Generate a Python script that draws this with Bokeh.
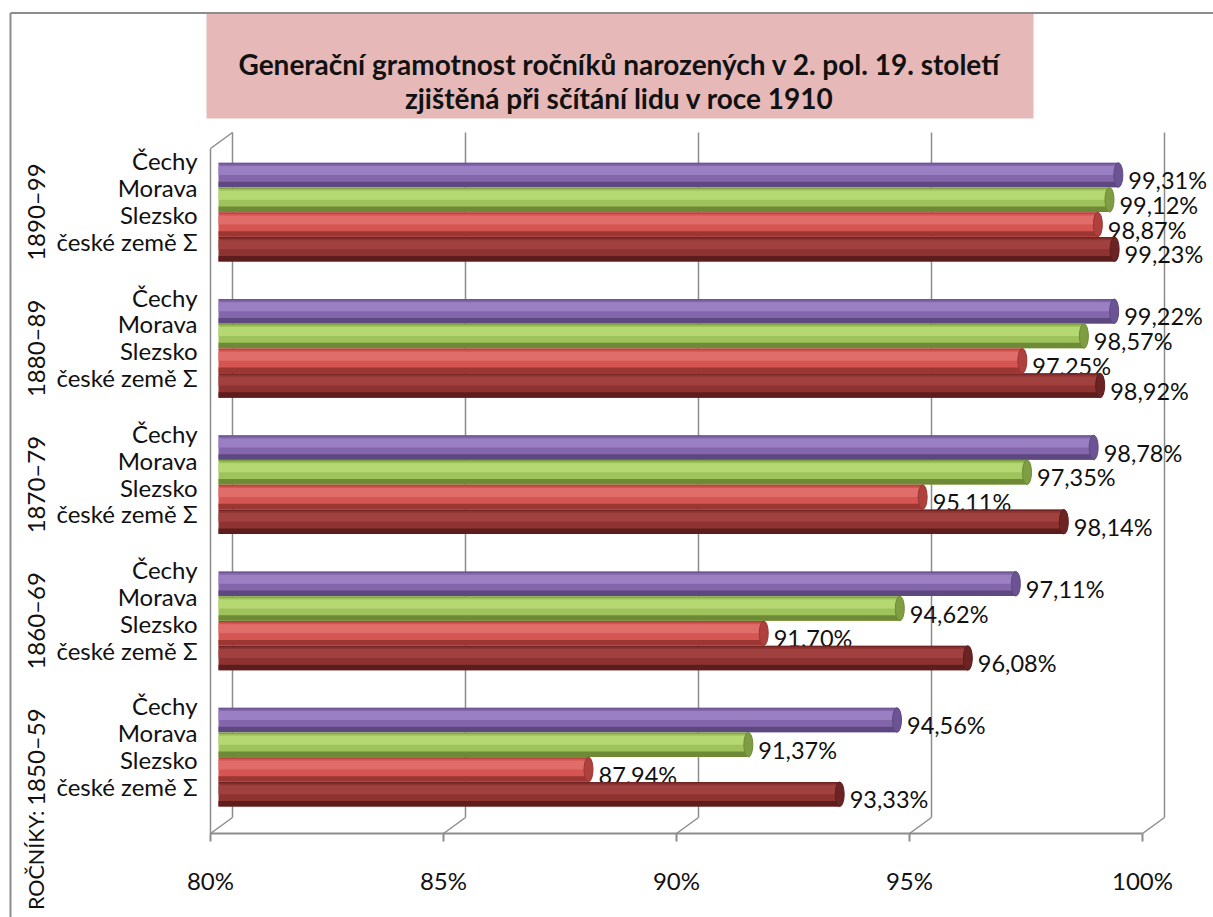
import math
from bokeh.plotting import figure
from bokeh.models import Range1d, LinearAxis, FixedTicker, ColumnDataSource
from bokeh.embed import file_html
from bokeh.resources import INLINE
from bokeh.core.properties import value

# ---------------- data ----------------
cohorts = ["1890–99", "1880–89", "1870–79", "1860–69", "1850–59"]
regions = ["Čechy", "Morava", "Slezsko", "české země Σ"]
cechy = [99.31, 99.22, 98.78, 97.11, 94.56]
morava = [99.12, 98.57, 97.35, 94.62, 91.37]
slezsko = [98.87, 97.25, 95.11, 91.70, 87.94]
ceske_zeme = [99.23, 98.92, 98.14, 96.08, 93.33]
ticks = [80, 85, 90, 95, 100]
tick_labels = ["80%", "85%", "90%", "95%", "100%"]
title_lines = ["Generační gramotnost ročníků narozených v 2. pol. 19. století",
               "zjištěná při sčítání lidu v roce 1910"]
axis_title = "ROČNÍKY:"

series = [cechy, morava, slezsko, ceske_zeme]
base_cols = ["#8466AC", "#9FC35C", "#D45551", "#8E3331"]
light_cols = ["#9A80C2", "#B5D873", "#E06D69", "#A0413F"]
dark_cols = ["#5D4880", "#6E8A36", "#9C3633", "#5C1D1C"]
cap_cols = ["#6C5494", "#7F9E44", "#AE403D", "#6B2423"]

# ---------------- layout ----------------
W, H = 1213, 917
X0 = 210.0      # px of 80 % on the front edge
PXU = 46.6      # px per percentage point
DX = 22.0 / PXU  # depth shift of the back wall
DY = 16.0
BX = 8.0 / PXU   # depth of the bars
FRONT_Y = 833.0
BACK_TOP = 132.0
FONT = value("Lato")


def px2x(px):
    return 80 + (px - X0) / PXU


p = figure(width=W, height=H, output_backend="svg", toolbar_location=None,
           x_range=Range1d(px2x(0), px2x(W)), y_range=Range1d(H, 0),
           x_axis_location=None, y_axis_location=None, min_border=0,
           outline_line_color=None, background_fill_color="white",
           border_fill_color="white")
p.grid.visible = False

GRID = "#8C8C8C"

# outer chart border
p.segment(x0=[px2x(10), px2x(10)], y0=[12.5, 12.5], x1=[px2x(W), px2x(10)], y1=[12.5, H],
          line_color=GRID, line_width=2)

# title box
p.quad(left=[px2x(206)], right=[px2x(1033)], top=[13.5], bottom=[118],
       fill_color="#E6B9B8", line_color=None)
p.text(x=[px2x(619)] * 2, y=[63, 97], text=title_lines, text_align="center",
       text_baseline="middle", text_font=FONT, text_font_size="28px",
       text_font_style="bold", text_color="#111111")

# back wall grid lines and floor slants
bx = [t + DX for t in ticks]
p.segment(x0=bx, y0=[FRONT_Y - DY] * len(ticks), x1=bx, y1=[BACK_TOP] * len(ticks),
          line_color=GRID, line_width=1.5)
p.segment(x0=ticks, y0=[FRONT_Y] * len(ticks), x1=bx, y1=[FRONT_Y - DY] * len(ticks),
          line_color=GRID, line_width=1.5)
# left side wall
p.segment(x0=[ticks[0], ticks[0]], y0=[FRONT_Y, BACK_TOP + DY],
          x1=[ticks[0], ticks[0] + DX], y1=[BACK_TOP + DY, BACK_TOP],
          line_color=GRID, line_width=1.5)

# bars (cylinders)
Y_FIRST = 174.5
G_PITCH = 136.25
B_PITCH = 24.75
BAR_H = 24.5
for k, vals in enumerate(series):
    ys = [Y_FIRST + g * G_PITCH + k * B_PITCH for g in range(len(cohorts))]
    rights = [v + BX for v in vals]
    src = ColumnDataSource(dict(y=ys, right=rights,
                                y_hi=[y - 4.5 for y in ys],
                                y_lo=[y + 9.5 for y in ys],
                                y_edge=[y - 11.5 for y in ys],
                                lab=[f"{v:.2f}".replace(".", ",") + "%" for v in vals]))
    left = ticks[0] + BX
    p.hbar(y="y", left=left, right="right", height=BAR_H, source=src,
           fill_color=base_cols[k], line_color=None)
    p.hbar(y="y_hi", left=left, right="right", height=9, source=src,
           fill_color=light_cols[k], line_color=None)
    p.hbar(y="y_lo", left=left, right="right", height=5.5, source=src,
           fill_color=dark_cols[k], line_color=None)
    p.hbar(y="y_edge", left=left, right="right", height=1.5, source=src,
           fill_color=dark_cols[k], line_color=None, fill_alpha=0.6)
    p.ellipse(x="right", y="y", width=9.0 / PXU, height=BAR_H, source=src,
              fill_color=cap_cols[k], line_color=dark_cols[k], line_width=1)
    p.text(x="right", y="y", text="lab", source=src, x_offset=10, y_offset=5,
           text_align="left", text_baseline="middle", text_font=FONT,
           text_font_size="23.5px", text_color="#111111")

# category labels
lab_x, lab_y, lab_t = [], [], []
for g in range(len(cohorts)):
    gc = Y_FIRST + g * G_PITCH + 1.5 * B_PITCH
    for k, r in enumerate(regions):
        lab_x.append(px2x(197))
        lab_y.append(gc - 11 + (k - 1.5) * 26.8)
        lab_t.append(r)
p.text(x=lab_x, y=lab_y, text=lab_t, text_align="right", text_baseline="middle",
       text_font=FONT, text_font_size="24px", text_color="#111111")

# cohort (group) labels, rotated
gy = [Y_FIRST + g * G_PITCH + 1.5 * B_PITCH for g in range(len(cohorts))]
p.text(x=[px2x(35)] * len(cohorts), y=gy, text=cohorts, angle=math.pi / 2,
       text_align="center", text_baseline="middle", text_font=FONT,
       text_font_size="24px", text_color="#111111")
p.text(x=[px2x(35)], y=[810], text=[axis_title], angle=math.pi / 2,
       text_align="right", text_baseline="middle", text_font=FONT,
       text_font_size="21.5px", text_color="#111111")

# value axis (front edge of the floor)
xaxis = LinearAxis(fixed_location=FRONT_Y, ticker=FixedTicker(ticks=ticks),
                   bounds=(ticks[0], ticks[-1]),
                   major_label_overrides={t: l for t, l in zip(ticks, tick_labels)},
                   axis_line_color=GRID, axis_line_width=2,
                   major_tick_line_color=GRID, major_tick_line_width=2,
                   major_tick_in=0, major_tick_out=8,
                   minor_tick_line_color=None, major_label_standoff=24,
                   major_label_text_font="Lato", major_label_text_font_size="24px",
                   major_label_text_color="#111111")
p.add_layout(xaxis, "below")

open("out.html", "w").write(file_html(p, INLINE))
